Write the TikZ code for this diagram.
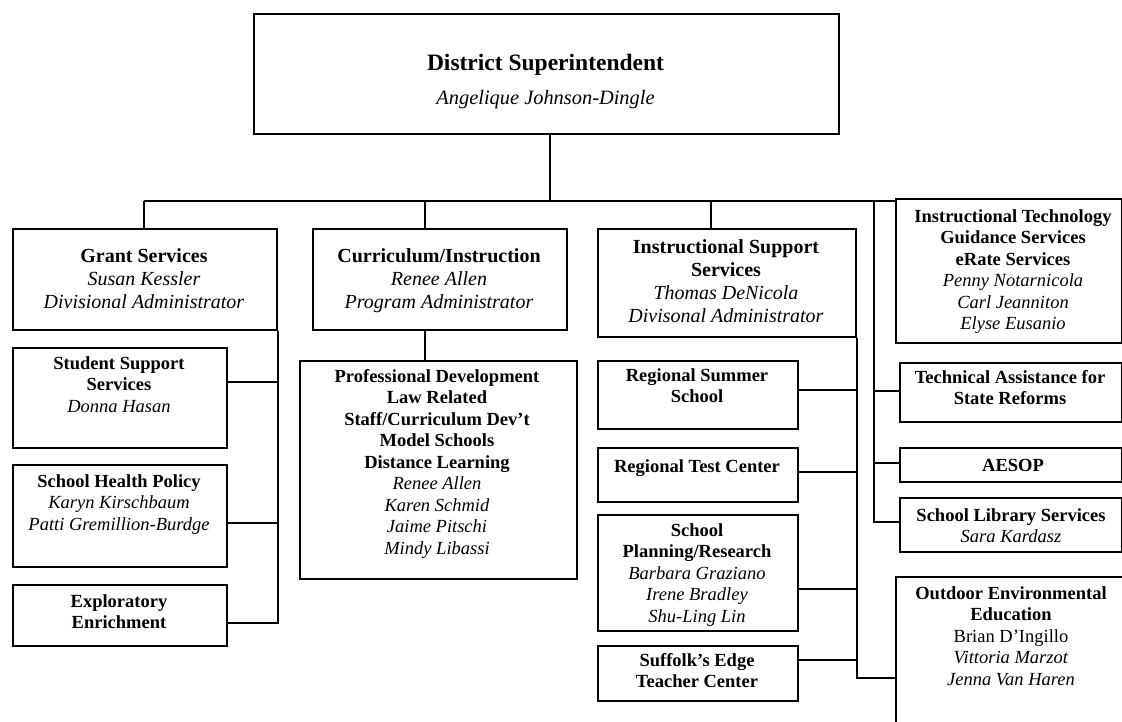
\documentclass[tikz,border=0pt]{standalone}
\usepackage{fontspec}
\setmainfont{Liberation Serif}
\tikzset{
  obox/.style={draw, line width=1.7pt, inner sep=0pt, anchor=north west},
  conn/.style={line width=1.6pt},
  toptxt/.style={anchor=north, align=center, inner sep=0pt, font=\fontsize{20}{23}\selectfont, execute at begin node=\rule{0pt}{15pt}},
  subtxt/.style={anchor=north, align=center, inner sep=0pt, font=\fontsize{18.5}{21.5}\selectfont, execute at begin node=\rule{0pt}{14pt}},
}
\newcommand\obx[5]{\node[obox, minimum width={#4-#2}, minimum height={#5-#3}] (#1) at (#2,#3) {};}
\begin{document}
\begin{tikzpicture}[x=1pt,y=-1pt]
\useasboundingbox[fill=white] (0,0) rectangle (1122,721);
\begin{scope}
\clip (0,0) rectangle (1122,721);
% boxes
\obx{ds}{253}{13}{838}{133}
\obx{gs}{12}{228}{276}{329}
\obx{ci}{312}{228}{566}{329}
\obx{iss}{597}{228}{855}{336}
\obx{it}{895}{198}{1121}{342}
\obx{ss}{12}{347}{226}{447}
\obx{shp}{12}{464}{226}{566}
\obx{ee}{12}{584}{226}{645}
\obx{pd}{299}{360}{576}{578}
\obx{rss}{597}{360}{797}{428}
\obx{rtc}{597}{447}{797}{501}
\obx{spr}{597}{514}{797}{630}
\obx{se}{597}{645}{797}{700}
\obx{ta}{899}{362}{1121}{421}
\obx{aesop}{899}{447}{1121}{481}
\obx{sls}{899}{497}{1121}{551}
\obx{oee}{895}{576}{1132}{735}
\end{scope}
% texts
\node[anchor=base, inner sep=0pt, font=\fontsize{23.5}{27}\selectfont\bfseries] (ds-t) at (545.5,70) {District Superintendent};
\node[anchor=base, inner sep=0pt, font=\fontsize{20.4}{24}\selectfont\itshape] (ds-n) at (545.5,104) {Angelique Johnson-Dingle};
\node[toptxt] (gs-t) at (144,248) {\textbf{Grant Services}\\\textit{Susan Kessler}\\\textit{Divisional Administrator}};
\node[toptxt] (ci-t) at (439,248) {\textbf{Curriculum/Instruction}\\\textit{Renee Allen}\\\textit{Program Administrator}};
\node[toptxt] (iss-t) at (726,239) {\textbf{Instructional Support}\\\textbf{Services}\\\textit{Thomas DeNicola}\\\textit{Divisonal Administrator}};
\node[subtxt] (it-t) at (1013,209) {\textbf{Instructional Technology}\\\textbf{Guidance Services}\\\textbf{eRate Services}\\\textit{Penny Notarnicola}\\\textit{Carl Jeanniton}\\\textit{Elyse Eusanio}};
\node[subtxt] (ss-t) at (119,356) {\textbf{Student Support}\\\textbf{Services}\\\textit{Donna Hasan}};
\node[subtxt] (shp-t) at (119,474) {\textbf{School Health Policy}\\\textit{Karyn Kirschbaum}\\\textit{Patti Gremillion-Burdge}};
\node[subtxt] (ee-t) at (119,594) {\textbf{Exploratory}\\\textbf{Enrichment}};
\node[subtxt] (pd-t) at (437,369) {\textbf{Professional Development}\\\textbf{Law Related}\\\textbf{Staff/Curriculum Dev’t}\\\textbf{Model Schools}\\\textbf{Distance Learning}\\\textit{Renee Allen}\\\textit{Karen Schmid}\\\textit{Jaime Pitschi}\\\textit{Mindy Libassi}};
\node[subtxt] (rss-t) at (697,368) {\textbf{Regional Summer}\\\textbf{School}};
\node[subtxt] (rtc-t) at (697,458) {\textbf{Regional Test Center}};
\node[subtxt] (spr-t) at (697,523) {\textbf{School}\\\textbf{Planning/Research}\\\textit{Barbara Graziano}\\\textit{Irene Bradley}\\\textit{Shu-Ling Lin}};
\node[subtxt] (se-t) at (697,653) {\textbf{Suffolk’s Edge}\\\textbf{Teacher Center}};
\node[subtxt] (ta-t) at (1010,370) {\textbf{Technical Assistance for}\\\textbf{State Reforms}};
\node[subtxt] (aesop-t) at (1013,457) {\textbf{AESOP}};
\node[subtxt] (sls-t) at (1011,508) {\textbf{School Library Services}\\\textit{Sara Kardasz}};
\node[subtxt] (oee-t) at (1011,586) {\textbf{Outdoor Environmental}\\\textbf{Education}\\Brian D’Ingillo\\\textit{Vittoria Marzot}\\\textit{Jenna Van Haren}};
% connectors
\coordinate (b-top) at (550,201);
\coordinate (b-gs) at (144,201);
\coordinate (b-ci) at (425,201);
\coordinate (b-iss) at (711,201);
\coordinate (b-r) at (874,201);
\draw[conn] (ds.south -| b-top) -- (b-top);
\draw[conn] (b-gs) -- (b-gs -| it.west);
\draw[conn] (b-gs) -- (b-gs |- gs.north);
\draw[conn] (b-ci) -- (b-ci |- ci.north);
\draw[conn] (b-iss) -- (b-iss |- iss.north);
\draw[conn] (ci.south -| b-ci) -- (pd.north -| b-ci);
% grant services trunk
\draw[conn] (gs.south east) -- (gs.east |- 0,623) -- (ee.east |- 0,623);
\draw[conn] (ss.east |- 0,382) -- (gs.east |- 0,382);
\draw[conn] (shp.east |- 0,523) -- (gs.east |- 0,523);
% instructional support trunk
\draw[conn] (iss.south east) -- (iss.east |- 0,678) -- (oee.west |- 0,678);
\draw[conn] (rss.east |- 0,390) -- (iss.east |- 0,390);
\draw[conn] (rtc.east |- 0,472) -- (iss.east |- 0,472);
\draw[conn] (spr.east |- 0,589) -- (iss.east |- 0,589);
\draw[conn] (se.east |- 0,660) -- (iss.east |- 0,660);
% right trunk
\draw[conn] (b-r) -- (b-r |- 0,522) -- (sls.west |- 0,522);
\draw[conn] (b-r |- 0,391) -- (ta.west |- 0,391);
\draw[conn] (b-r |- 0,463) -- (aesop.west |- 0,463);
\end{tikzpicture}
\end{document}
